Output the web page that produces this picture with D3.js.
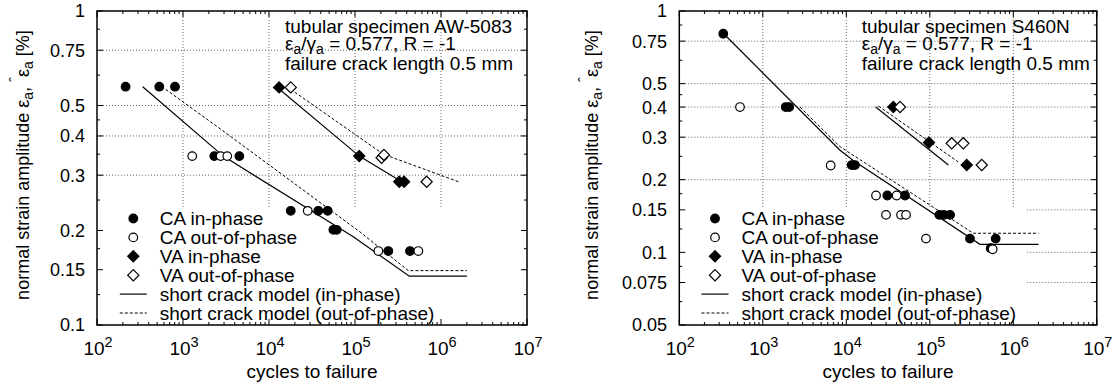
<!DOCTYPE html>
<html>
<head>
<script src="https://cdnjs.cloudflare.com/ajax/libs/d3/7.8.5/d3.min.js"></script>
<style>
  body { margin: 0; background: #fff; }
  text { font-family: "Liberation Sans", Arial, Helvetica, sans-serif; font-size: 19px; fill: #000; }
  text.tick { font-size: 18px; }
</style>
</head>
<body>
<div id="vis"></div>
<script>
// ---- data: [cycles to failure, strain amplitude %] ----
const leftCaIn   = [[215,0.574],[530,0.574],[807,0.574],[2310,0.345],[4520,0.345],
                    [17900,0.231],[37400,0.231],[48100,0.231],[56000,0.201],[61200,0.201],
                    [244000,0.172],[436000,0.172]];
const leftCaOut  = [[1280,0.345],[2740,0.345],[3270,0.345],[28200,0.231],[187000,0.172],[545000,0.172]];
const leftVaIn   = [[13100,0.571],[112000,0.345],[327000,0.286],[372000,0.286]];
const leftVaOut  = [[17900,0.571],[204000,0.341],[217000,0.348],[681000,0.286]];
const leftModelIn    = [[340,0.574],[2940,0.345],[95500,0.191],[428000,0.143],[2e6,0.143]];
const leftModelOut   = [[630,0.563],[2820,0.418],[114000,0.198],[417000,0.149],[2e6,0.149]];
const leftVaModelIn  = [[12500,0.571],[112000,0.345],[349000,0.286]];
const leftVaModelOut = [[17900,0.563],[213000,0.350],[1.59e6,0.286]];

const rightCaIn  = [[336,0.805],[1880,0.4],[2070,0.4],[11600,0.23],[12700,0.23],[31000,0.172],
                    [50500,0.172],[130000,0.143],[148000,0.143],[175000,0.143],[303000,0.114],
                    [615000,0.114],[536000,0.104]];
const rightCaOut = [[533,0.4],[6500,0.229],[22700,0.172],[40100,0.172],[29900,0.143],[45200,0.143],
                    [51900,0.143],[90000,0.114],[566000,0.103]];
const rightVaIn  = [[36600,0.4],[97800,0.285],[277000,0.23]];
const rightVaOut = [[44000,0.4],[183000,0.283],[252000,0.283],[419000,0.23]];
const rightModelIn    = [[370,0.782],[8410,0.265],[12000,0.241],[399000,0.108],[2e6,0.108]];
const rightModelOut   = [[2790,0.4],[8410,0.274],[332000,0.120],[2e6,0.120]];
const rightVaModelIn  = [[22500,0.4],[167000,0.23]];
const rightVaModelOut = [[24200,0.404],[219000,0.237]];

// ---- tick labels ----
const xExponents = [2, 3, 4, 5, 6, 7];
const leftYTicks  = [1, 0.75, 0.5, 0.4, 0.3, 0.2, 0.15, 0.1];
const rightYTicks = [1, 0.75, 0.5, 0.4, 0.3, 0.2, 0.15, 0.1, 0.075, 0.05];
const legendLabels = ["CA in-phase", "CA out-of-phase", "VA in-phase", "VA out-of-phase",
                      "short crack model (in-phase)", "short crack model (out-of-phase)"];
const leftTitle  = "tubular specimen AW-5083";
const rightTitle = "tubular specimen S460N";

const svg = d3.select("#vis").append("svg")
    .attr("width", 1117).attr("height", 390);

function sym(g, kind, x, y) {
    if (kind === "cf" || kind === "co") {
        g.append("circle").attr("cx", x).attr("cy", y).attr("r", 4.3)
            .attr("fill", kind === "cf" ? "#000" : "#fff")
            .attr("stroke", "#000").attr("stroke-width", 1.2);
    } else {
        const s = 5.6;
        g.append("path")
            .attr("d", `M${x},${y - s}L${x + s},${y}L${x},${y + s}L${x - s},${y}Z`)
            .attr("fill", kind === "df" ? "#000" : "#fff")
            .attr("stroke", "#000").attr("stroke-width", 1.2);
    }
}

function drawPanel(p) {
    const g = svg.append("g");
    const x = d3.scaleLog().domain([1e2, 1e7]).range([p.x0, p.x1]);
    const y = d3.scaleLog().domain(p.yDomain).range([p.y1, p.y0]);

    // grid
    const grid = g.append("g").attr("stroke", "#666").attr("stroke-width", 1)
        .attr("stroke-dasharray", "1,2");
    [1e3, 1e4, 1e5, 1e6].forEach(v => {
        grid.append("line").attr("x1", x(v)).attr("x2", x(v)).attr("y1", p.y0).attr("y2", p.y1);
    });
    p.yTicks.slice(1, -1).forEach(v => {
        grid.append("line").attr("x1", p.x0).attr("x2", p.x1).attr("y1", y(v)).attr("y2", y(v));
    });

    // opaque key area
    g.append("rect").attr("x", p.x0).attr("y", p.box[0])
        .attr("width", p.box[1] - p.x0).attr("height", p.y1 - p.box[0]).attr("fill", "#fff");

    // ticks
    const tk = g.append("g").attr("stroke", "#000").attr("stroke-width", 1);
    for (let e = 2; e <= 7; e++) {
        const xv = x(Math.pow(10, e));
        tk.append("line").attr("x1", xv).attr("x2", xv).attr("y1", p.y1).attr("y2", p.y1 - 6);
        tk.append("line").attr("x1", xv).attr("x2", xv).attr("y1", p.y0).attr("y2", p.y0 + 6);
        if (e < 7) for (let m = 2; m <= 9; m++) {
            const xm = x(m * Math.pow(10, e));
            tk.append("line").attr("x1", xm).attr("x2", xm).attr("y1", p.y1).attr("y2", p.y1 - 3);
            tk.append("line").attr("x1", xm).attr("x2", xm).attr("y1", p.y0).attr("y2", p.y0 + 3);
        }
    }
    p.yTicks.forEach((v, i) => {
        tk.append("line").attr("x1", p.x0).attr("x2", p.x0 + 6).attr("y1", y(v)).attr("y2", y(v));
        tk.append("line").attr("x1", p.x1).attr("x2", p.x1 - 6).attr("y1", y(v)).attr("y2", y(v));
        if (i < p.yTicks.length - 1) {
            const ym = y((v + p.yTicks[i + 1]) / 2);
            tk.append("line").attr("x1", p.x0).attr("x2", p.x0 + 3).attr("y1", ym).attr("y2", ym);
            tk.append("line").attr("x1", p.x1).attr("x2", p.x1 - 3).attr("y1", ym).attr("y2", ym);
        }
    });

    // border
    g.append("rect").attr("x", p.x0).attr("y", p.y0)
        .attr("width", p.x1 - p.x0).attr("height", p.y1 - p.y0)
        .attr("fill", "none").attr("stroke", "#000").attr("stroke-width", 1.5);

    // tick labels
    p.yTicks.forEach(v => {
        g.append("text").attr("class", "tick").attr("x", p.yLabelX).attr("y", y(v))
            .attr("dy", "0.36em").attr("text-anchor", "end").text(String(v));
    });
    xExponents.forEach(e => {
        const t = g.append("text").attr("x", x(Math.pow(10, e)) + 1).attr("y", 355)
            .attr("text-anchor", "middle");
        t.append("tspan").text("10");
        t.append("tspan").attr("dy", -8).style("font-size", "14.5px").text(e);
    });

    // axis titles
    g.append("text").attr("x", (p.x0 + p.x1) / 2).attr("y", 378)
        .attr("text-anchor", "middle").text("cycles to failure");
    const yl = g.append("text").attr("text-anchor", "middle").style("font-size", "18px")
        .attr("transform", `translate(${p.yTitleX},165) rotate(-90)`);
    yl.append("tspan").text("normal strain amplitude ε");
    yl.append("tspan").attr("dy", 4).style("font-size", "14px").text("a");
    yl.append("tspan").attr("dy", -4).text(", ");
    yl.append("tspan").attr("dy", -9).style("font-size", "15px").text("ˆ");
    yl.append("tspan").attr("dy", 9).text("ε");
    yl.append("tspan").attr("dy", 4).style("font-size", "14px").text("a");
    yl.append("tspan").attr("dy", -4).text(" [%]");

    // model lines
    const line = d3.line().x(d => x(d[0])).y(d => y(d[1]));
    p.solid.forEach(s => g.append("path").attr("d", line(s)).attr("fill", "none")
        .attr("stroke", "#000").attr("stroke-width", 1.2));
    p.dashed.forEach(s => g.append("path").attr("d", line(s)).attr("fill", "none")
        .attr("stroke", "#000").attr("stroke-width", 1).attr("stroke-dasharray", "3,2"));

    // data points
    const pts = g.append("g");
    [["cf", p.caIn], ["co", p.caOut], ["df", p.vaIn], ["do", p.vaOut]].forEach(([k, arr]) => {
        arr.forEach(d => sym(pts, k, x(d[0]), y(d[1])));
    });

    // legend
    const lg = g.append("g");
    const kinds = ["cf", "co", "df", "do", "solid", "dashed"];
    kinds.forEach((k, i) => {
        const cy = 218.5 + i * 18.9;
        if (k === "solid" || k === "dashed") {
            lg.append("line").attr("x1", p.legX - 13.5).attr("x2", p.legX + 13.5)
                .attr("y1", cy).attr("y2", cy).attr("stroke", "#000")
                .attr("stroke-width", k === "solid" ? 1.2 : 1)
                .attr("stroke-dasharray", k === "dashed" ? "3,2" : null);
        } else {
            sym(lg, k, p.legX, cy);
        }
        lg.append("text").attr("x", p.legX + 26.5).attr("y", cy).attr("dy", "0.36em")
            .text(legendLabels[i]);
    });

    // annotation
    const tx = p.noteX;
    g.append("text").attr("x", tx).attr("y", 32.5).text(p.title);
    const t2 = g.append("text").attr("x", tx).attr("y", 50);
    t2.append("tspan").text("ε");
    t2.append("tspan").attr("dy", 4).style("font-size", "14px").text("a");
    t2.append("tspan").attr("dy", -4).text("/γ");
    t2.append("tspan").attr("dy", 4).style("font-size", "14px").text("a");
    t2.append("tspan").attr("dy", -4).text(" = 0.577, R = -1");
    g.append("text").attr("x", tx).attr("y", 70).text("failure crack length 0.5 mm");
}

drawPanel({
    x0: 97, x1: 527, y0: 11, y1: 325, yDomain: [0.1, 1], yTicks: leftYTicks,
    box: [207, 523], yLabelX: 85, yTitleX: 28.5, legX: 133.3, noteX: 285, title: leftTitle,
    caIn: leftCaIn, caOut: leftCaOut, vaIn: leftVaIn, vaOut: leftVaOut,
    solid: [leftModelIn, leftVaModelIn], dashed: [leftModelOut, leftVaModelOut]
});
drawPanel({
    x0: 679.3, x1: 1096.8, y0: 11, y1: 325, yDomain: [0.05, 1], yTicks: rightYTicks,
    box: [207, 1026], yLabelX: 667, yTitleX: 598, legX: 715, noteX: 861.7, title: rightTitle,
    caIn: rightCaIn, caOut: rightCaOut, vaIn: rightVaIn, vaOut: rightVaOut,
    solid: [rightModelIn, rightVaModelIn], dashed: [rightModelOut, rightVaModelOut]
});
</script>
</body>
</html>
